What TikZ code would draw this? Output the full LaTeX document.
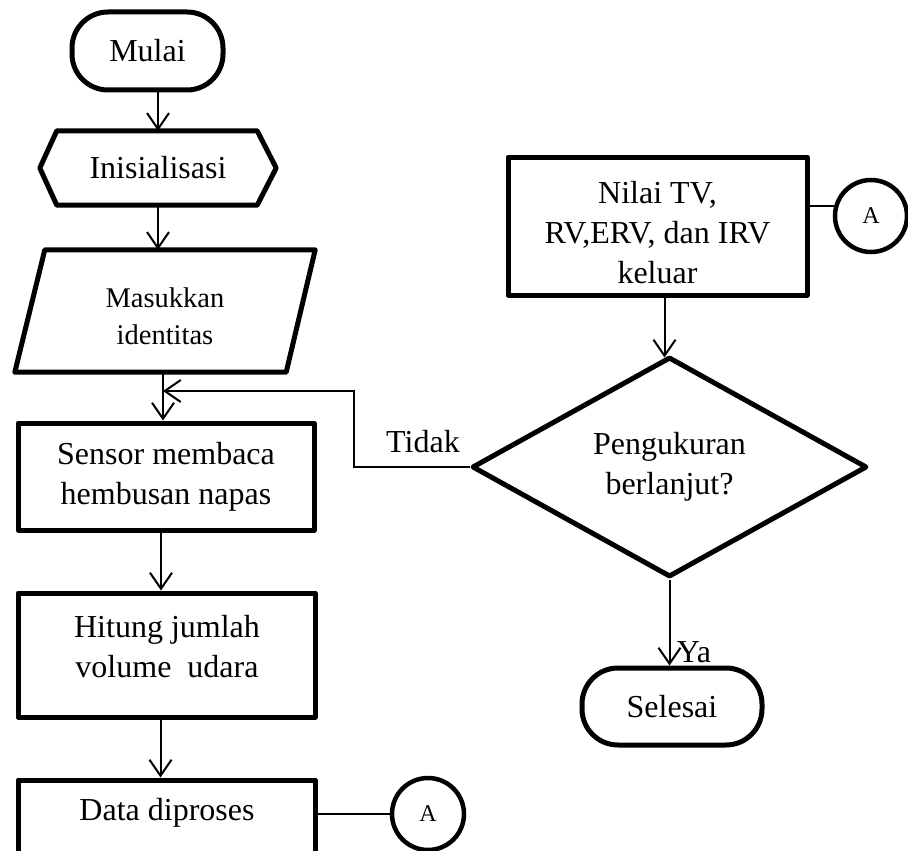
\documentclass[tikz,border=0pt]{standalone}
\usepackage{fontspec}
\setmainfont{Liberation Serif}
\usetikzlibrary{arrows.meta,shapes.geometric,calc}
\begin{document}
\begin{tikzpicture}[x=1pt,y=-1pt,
  every node/.style={font=\fontsize{32}{40}\selectfont, align=center, inner sep=0pt},
  shapeline/.style={draw, line width=5pt, line join=round},
  boxnode/.style={shapeline, rectangle},
  termnode/.style={shapeline, rectangle, rounded corners=36pt},
  frame/.style={rectangle},
  flow/.style={line width=2pt, -{Straight Barb[length=16pt,width=22pt,line width=2pt]}},
  wire/.style={line width=2pt},
  conn/.style={circle, draw, line width=4.5pt, minimum size=72pt, font=\fontsize{24}{28}\selectfont}]

\useasboundingbox (0,0) rectangle (908,851);
\clip (0,0) rectangle (908,851);

% ---- left column ----
\node[termnode, minimum width=151pt, minimum height=78pt] (start) at (147.5,51) {Mulai};

% preparation (hexagon)
\node[frame, minimum width=236pt, minimum height=74pt] (init) at (158,168) {Inisialisasi};
\draw[shapeline] (init.west) -- ([xshift=17pt]init.north west) -- ([xshift=-19pt]init.north east)
  -- (init.east) -- ([xshift=-19pt]init.south east) -- ([xshift=17pt]init.south west) -- cycle;

% input (parallelogram)
\node[frame, minimum width=300pt, minimum height=122pt] (input) at (165,311) {};
\draw[shapeline] ([xshift=30pt]input.north west) -- (input.north east)
  -- ([xshift=-29pt]input.south east) -- (input.south west) -- cycle;
\node[font=\fontsize{28.5}{37}\selectfont] (inputtxt) at (165,316) {Masukkan\\identitas};

\coordinate (join) at (163,391);

\node[boxnode, minimum width=296pt, minimum height=107pt] (sensor) at (166,476.5) {Sensor membaca\\hembusan napas};

\node[boxnode, minimum width=297pt, minimum height=124pt] (hitung) at (166.5,655) {};
\node (hitungtxt) at (167,647) {Hitung jumlah\\volume\ \ udara};

\node[boxnode, minimum width=297pt, minimum height=100pt] (data) at (166.5,830) {};
\node (datatxt) at (167,813) {Data diproses};

\node[conn] (a1) at (428,814) {A};

% ---- right column ----
\node[boxnode, minimum width=299pt, minimum height=138pt] (res) at (657.5,226) {};
\node (restxt) at (657.5,233) {Nilai TV,\\RV,ERV, dan IRV\\keluar};

\node[conn] (a2) at (871,216) {A};

\node[shapeline, diamond, aspect=1.8, minimum width=395pt, minimum height=220pt] (dec) at (669.5,467) {Pengukuran\\berlanjut?};

\node[termnode, minimum width=180pt, minimum height=77pt] (stop) at (672,706.5) {Selesai};

% ---- connectors ----
\draw[flow] (init.north |- start.south) -- (init.north);
\draw[flow] (init.south) -- (init.south |- input.north);
\draw[flow] (join |- input.south) -- (join |- sensor.north);
\draw[flow] ([xshift=-5pt]sensor.south) -- ([xshift=-5pt]sensor.south |- hitung.north);
\draw[flow] ([xshift=-6pt]hitung.south) -- ([xshift=-6pt]hitung.south |- data.north);
\draw[wire] (a1.west -| data.east) -- (a1.west);

\draw[wire] (res.east |- a2.165) -- (a2.165);
\draw[flow] ([xshift=-5pt]dec.north |- res.south) -- ([xshift=-5pt,yshift=-3pt]dec.north);
\draw[flow] (dec.south) -- (dec.south |- stop.north);
\draw[flow] (dec.west) -- ++(-116,0) |- (join);

% ---- branch labels ----
\node (tidak) at (423,442) {Tidak};
\node (ya) at (694,652) {Ya};
\end{tikzpicture}
\end{document}
